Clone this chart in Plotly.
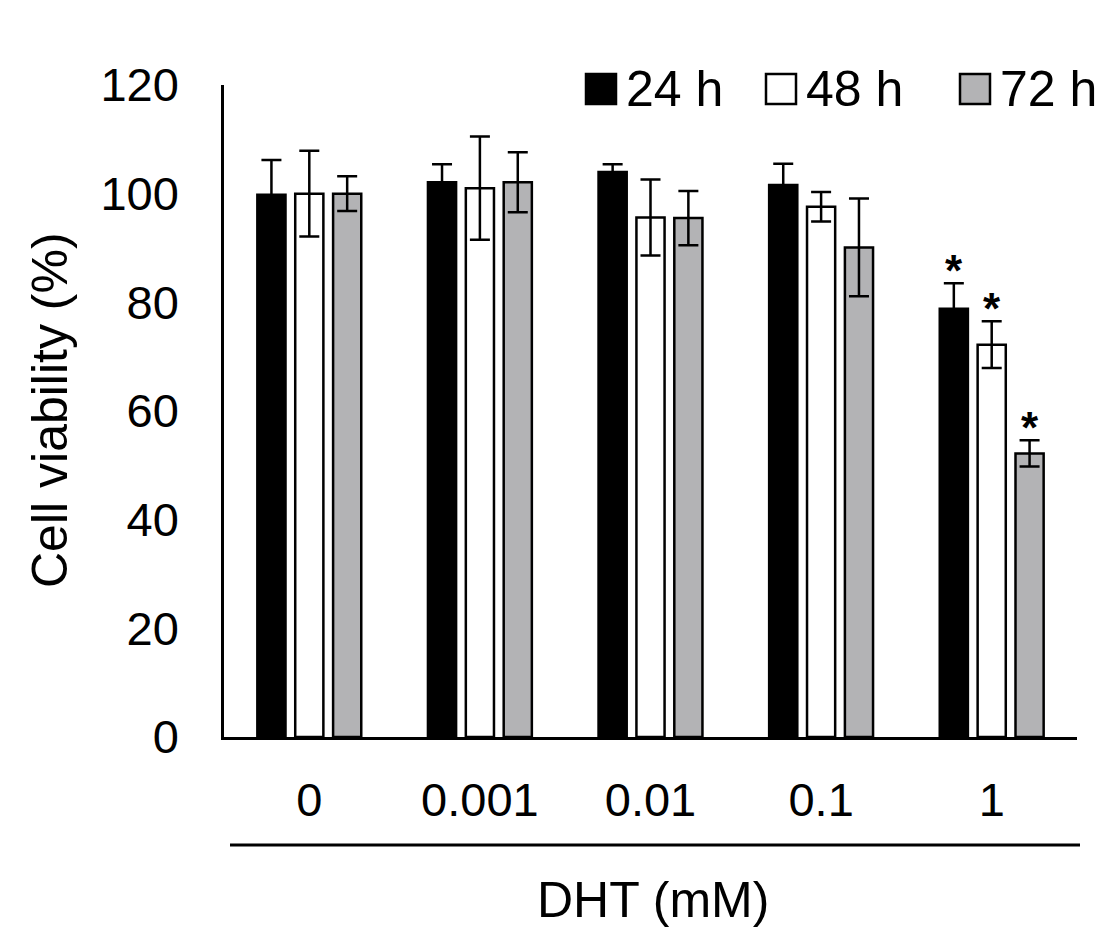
import plotly.graph_objects as go

categories = ["0", "0.001", "0.01", "0.1", "1"]
series_names = ["24 h", "48 h", "72 h"]
v24 = [99.8, 102.1, 104.0, 101.6, 78.8]
e24 = [6.4, 3.3, 1.4, 3.9, 4.7]
v48 = [100.0, 101.0, 95.6, 97.6, 72.2]
e48 = [7.9, 9.5, 7.0, 2.7, 4.3]
v72 = [100.0, 102.1, 95.5, 90.1, 52.2]
e72 = [3.2, 5.5, 5.0, 9.0, 2.4]
sig24 = ["", "", "", "", "*"]
sig48 = ["", "", "", "", "*"]
sig72 = ["", "", "", "", "*"]
y_ticks = [0, 20, 40, 60, 80, 100, 120]

FONT = "Liberation Sans, Arial, sans-serif"
fills = ["#000000", "#ffffff", "#b3b3b5"]
values = [v24, v48, v72]
errors = [e24, e48, e72]
sigs = [sig24, sig48, sig72]
offsets = [-0.222, 0.0, 0.222]
bar_w = 0.165

# page has 8px body margin; plot area target in screenshot: x 224..1077, y 85..737
PL, PR, PT, PB = 224, 1077, 85, 737
PW, PH = PR - PL, PB - PT


def px(xp):
    return (xp - PL) / PW


def py(yp):
    return (PB - yp) / PH


fig = go.Figure()
xs = list(range(len(categories)))
for j in range(3):
    fig.add_trace(go.Bar(
        x=[i + offsets[j] for i in xs], y=values[j], width=bar_w,
        name=series_names[j],
        marker=dict(color=fills[j], line=dict(color="black", width=2.5)),
        error_y=dict(type="data", array=errors[j], visible=True,
                     color="black", thickness=2.5, width=10),
        showlegend=False,
    ))
    for i in xs:
        if sigs[j][i]:
            fig.add_annotation(x=i + offsets[j], y=values[j][i] + errors[j][i],
                               text="<b>" + sigs[j][i] + "</b>", showarrow=False,
                               xref="x", yref="y", yanchor="bottom", yshift=-14,
                               font=dict(family=FONT, size=44, color="black"))

# custom legend
leg_x = [586, 766, 960]
for j in range(3):
    fig.add_shape(type="rect", xref="paper", yref="paper",
                  x0=px(leg_x[j]), x1=px(leg_x[j] + 30), y0=py(104), y1=py(74),
                  fillcolor=fills[j], line=dict(color="black", width=2.5))
    fig.add_annotation(xref="paper", yref="paper", x=px(leg_x[j] + 38),
                       y=py(89), text=series_names[j], showarrow=False,
                       xanchor="left", yanchor="middle",
                       font=dict(family=FONT, size=50, color="black"))

# second baseline under tick labels
fig.add_shape(type="line", xref="paper", yref="paper",
              x0=px(230), x1=px(1080), y0=py(845), y1=py(845),
              line=dict(color="black", width=3))

fig.add_annotation(xref="paper", yref="paper", x=px(653), y=py(900),
                   text="DHT (mM)", showarrow=False, xanchor="center", yanchor="middle",
                   font=dict(family=FONT, size=50, color="black"))
fig.add_annotation(xref="paper", yref="paper", x=px(50), y=py(410),
                   text="Cell viability (%)", showarrow=False, textangle=-90,
                   xanchor="center", yanchor="middle",
                   font=dict(family=FONT, size=50, color="black"))

fig.update_layout(
    width=1120, height=947,
    margin=dict(l=PL - 8, r=1120 - PR + 8, t=PT - 8, b=947 - PB + 8),
    paper_bgcolor="white", plot_bgcolor="white",
    font=dict(family=FONT, size=47, color="black"),
    xaxis=dict(range=[-0.5, 4.5], tickvals=xs, ticktext=categories,
               showline=True, linecolor="black", linewidth=2.5, ticks="",
               showgrid=False, zeroline=False, ticklabelstandoff=20,
               tickfont=dict(family=FONT, size=47)),
    yaxis=dict(range=[0, 120], tickvals=y_ticks, showline=True, linecolor="black",
               linewidth=2.5, ticks="", showgrid=False, zeroline=False,
               ticklabelstandoff=33, tickfont=dict(family=FONT, size=47)),
)

fig.write_html("out.html")
